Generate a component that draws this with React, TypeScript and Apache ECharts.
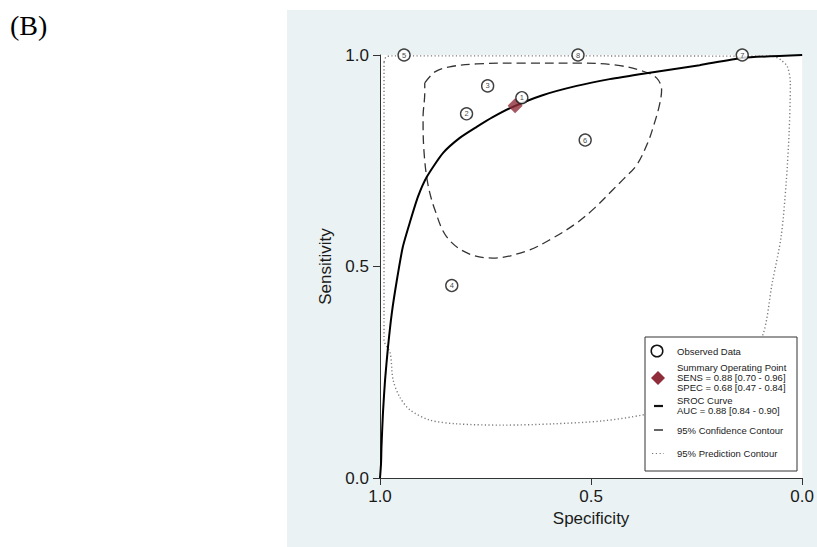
import React, { useEffect, useRef } from "react";
import * as echarts from "echarts";

// Observed studies (specificity, sensitivity)
const studyIds = ["1", "2", "3", "4", "5", "6", "7", "8"];
const studySpec = [0.664, 0.795, 0.745, 0.83, 0.943, 0.514, 0.142, 0.531];
const studySens = [0.899, 0.861, 0.927, 0.455, 1.0, 0.799, 1.0, 1.0];

// Summary operating point
const summarySpec = [0.68];
const summarySens = [0.88];

// SROC curve
const srocSpec = [1.0, 0.9975, 0.9965, 0.993, 0.988, 0.981, 0.972, 0.96, 0.946, 0.929, 0.91, 0.889, 0.851, 0.811, 0.771, 0.733, 0.686, 0.615, 0.534, 0.456, 0.369, 0.243, 0.142, 0.0];
const srocSens = [0.0, 0.035, 0.073, 0.154, 0.232, 0.31, 0.39, 0.468, 0.546, 0.605, 0.665, 0.712, 0.768, 0.804, 0.83, 0.853, 0.877, 0.905, 0.927, 0.943, 0.957, 0.976, 0.993, 1.0];

// 95% confidence contour
const confSpec = [0.894, 0.87, 0.835, 0.771, 0.652, 0.534, 0.44, 0.378, 0.345, 0.333, 0.338, 0.35, 0.366, 0.392, 0.421, 0.449, 0.492, 0.534, 0.591, 0.652, 0.733, 0.794, 0.842, 0.87, 0.887, 0.896, 0.898, 0.894, 0.894];
const confSens = [0.934, 0.96, 0.972, 0.979, 0.981, 0.981, 0.976, 0.962, 0.946, 0.917, 0.882, 0.839, 0.792, 0.74, 0.709, 0.681, 0.638, 0.603, 0.567, 0.537, 0.52, 0.532, 0.57, 0.634, 0.697, 0.775, 0.853, 0.91, 0.934];

// 95% prediction contour
const predSpec = [0.9905, 0.9905, 0.9905, 0.976, 0.969, 0.953, 0.929, 0.882, 0.818, 0.709, 0.591, 0.473, 0.378, 0.267, 0.161, 0.095, 0.071, 0.05, 0.038, 0.031, 0.028, 0.035, 0.05, 0.071, 0.972, 0.986, 0.9905];
const predSens = [0.983, 0.657, 0.326, 0.296, 0.232, 0.191, 0.161, 0.137, 0.128, 0.125, 0.128, 0.135, 0.149, 0.175, 0.22, 0.333, 0.461, 0.57, 0.697, 0.816, 0.934, 0.972, 0.988, 0.997, 0.998, 0.995, 0.983];

// Axis ticks
const axisTicks = [0, 0.5, 1.0];

// Legend texts
const legendLines = [
  ["Observed Data"],
  ["Summary Operating Point", "SENS = 0.88 [0.70 - 0.96]", "SPEC = 0.68 [0.47 - 0.84]"],
  ["SROC Curve", "AUC = 0.88 [0.84 - 0.90]"],
  ["95% Confidence Contour"],
  ["95% Prediction Contour"],
];

const FONT = "'Liberation Sans', Arial, sans-serif";
const MAROON = "#8f2e3a";

export default function App() {
  const ref = useRef<HTMLDivElement>(null);

  useEffect(() => {
    if (!ref.current) return;
    const chart = echarts.init(ref.current, undefined, { renderer: "svg" });

    const pair = (a: number[], b: number[]) => a.map((v, i) => [v, b[i]]);
    const lx = 677;
    const txt = (s: string, y: number) => ({
      type: "text",
      z: 101,
      style: { text: s, x: lx, y, fontSize: 9.5, fontFamily: FONT, fill: "#1a1a1a", verticalAlign: "middle" },
    });

    chart.setOption({
      animation: false,
      backgroundColor: "transparent",
      grid: { left: 380, top: 55, width: 423, height: 423, show: true, backgroundColor: "#ffffff", borderWidth: 0 },
      xAxis: {
        type: "value",
        min: axisTicks[0],
        max: axisTicks[2],
        interval: 0.5,
        inverse: true,
        name: "Specificity",
        nameLocation: "middle",
        nameGap: 30,
        nameTextStyle: { fontSize: 17, fontFamily: FONT, color: "#1a1a1a" },
        axisLine: { onZero: false, lineStyle: { color: "#333", width: 1 } },
        axisTick: { show: true, length: 7, lineStyle: { color: "#333" } },
        axisLabel: { fontSize: 17, fontFamily: FONT, color: "#1a1a1a", margin: 10, formatter: (v: number) => v.toFixed(1) },
        splitLine: { show: false },
      },
      yAxis: {
        type: "value",
        min: axisTicks[0],
        max: axisTicks[2],
        interval: 0.5,
        position: "left",
        name: "Sensitivity",
        nameLocation: "middle",
        nameGap: 46,
        nameRotate: 90,
        nameTextStyle: { fontSize: 17, fontFamily: FONT, color: "#1a1a1a" },
        axisLine: { show: true, onZero: false, lineStyle: { color: "#333", width: 1 } },
        axisTick: { show: true, length: 7, lineStyle: { color: "#333" } },
        axisLabel: { fontSize: 17, fontFamily: FONT, color: "#1a1a1a", margin: 11, formatter: (v: number) => v.toFixed(1) },
        splitLine: { show: false },
      },
      series: [
        {
          type: "line",
          name: "95% Prediction Contour",
          data: pair(predSpec, predSens),
          smooth: 0.3,
          symbol: "none",
          clip: false,
          lineStyle: { color: "#7a7a7a", width: 1.4, type: [1.2, 2.4] },
          z: 2,
        },
        {
          type: "line",
          name: "95% Confidence Contour",
          data: pair(confSpec, confSens),
          smooth: 0.35,
          symbol: "none",
          clip: false,
          lineStyle: { color: "#333", width: 1.3, type: [9, 5] },
          z: 3,
        },
        {
          type: "line",
          name: "SROC Curve",
          data: pair(srocSpec, srocSens),
          smooth: 0.2,
          symbol: "none",
          clip: false,
          lineStyle: { color: "#000", width: 2 },
          z: 4,
        },
        {
          type: "scatter",
          name: "Summary Operating Point",
          data: pair(summarySpec, summarySens),
          symbol: "diamond",
          symbolSize: [15, 15],
          itemStyle: { color: MAROON },
          z: 5,
        },
        {
          type: "scatter",
          name: "Observed Data",
          data: studyIds.map((id, i) => ({ name: id, value: [studySpec[i], studySens[i]] })),
          symbol: "circle",
          symbolSize: 12,
          clip: false,
          itemStyle: { color: "#ffffff", borderColor: "#111", borderWidth: 1.4 },
          label: {
            show: true,
            position: "inside",
            formatter: (p: any) => p.name,
            fontSize: 7.5,
            fontFamily: FONT,
            color: "#111",
          },
          z: 6,
        },
      ],
      graphic: [
        {
          type: "text",
          z: 101,
          style: { text: "(B)", x: 10, y: 25, fontSize: 28, fontFamily: "'Liberation Serif', 'Times New Roman', serif", fill: "#000", verticalAlign: "middle" },
        },
        {
          type: "rect",
          z: 100,
          shape: { x: 645, y: 337, width: 152, height: 134 },
          style: { fill: "#fff", stroke: "#333", lineWidth: 1 },
        },
        { type: "circle", z: 101, shape: { cx: 657, cy: 351, r: 5.8 }, style: { fill: "#fff", stroke: "#111", lineWidth: 1.5 } },
        txt(legendLines[0][0], 351),
        {
          type: "polygon",
          z: 101,
          shape: { points: [[658, 371], [665, 378], [658, 385], [651, 378]] },
          style: { fill: MAROON },
        },
        txt(legendLines[1][0], 367.5),
        txt(legendLines[1][1], 377.5),
        txt(legendLines[1][2], 387),
        { type: "line", z: 101, shape: { x1: 654, y1: 406, x2: 663, y2: 406 }, style: { stroke: "#111", lineWidth: 2.2 } },
        txt(legendLines[2][0], 400.5),
        txt(legendLines[2][1], 410),
        { type: "line", z: 101, shape: { x1: 654, y1: 430, x2: 663, y2: 430 }, style: { stroke: "#111", lineWidth: 1.3 } },
        txt(legendLines[3][0], 430),
        { type: "line", z: 101, shape: { x1: 652, y1: 453.5, x2: 664, y2: 453.5 }, style: { stroke: "#777", lineWidth: 1.2, lineDash: [1.2, 2.6] } },
        txt(legendLines[4][0], 453.5),
      ],
    });

    return () => chart.dispose();
  }, []);

  return (
    <div style={{ position: "fixed", left: 0, top: 0, width: 817, height: 547, background: "#ffffff" }}>
      <div style={{ position: "absolute", left: 287, top: 10, width: 530, height: 537, background: "#eaf2f3" }} />
      <div ref={ref} style={{ position: "absolute", left: 0, top: 0, width: 817, height: 547 }} />
    </div>
  );
}
